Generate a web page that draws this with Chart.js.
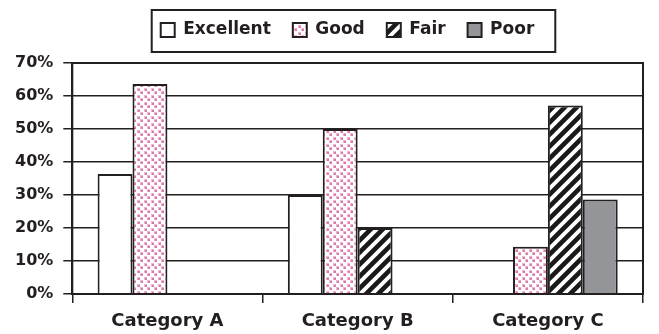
<!DOCTYPE html>
<html>
<head>
<meta charset="utf-8">
<script src="https://cdn.jsdelivr.net/npm/chart.js@4/dist/chart.umd.min.js"></script>
<style>
  html, body { margin: 0; padding: 0; background: #fff; }
  #wrap { width: 659px; height: 334px; }
</style>
</head>
<body>
<div id="wrap"><canvas id="chart" width="659" height="334"></canvas></div>
<script>
// chart data
const categories = ['Category A', 'Category B', 'Category C'];
const seriesNames = ['Excellent', 'Good', 'Fair', 'Poor'];
const excellent = [36.4, 30, 0];
const good = [63.6, 50, 14.3];
const fair = [0, 20, 57.1];
const poor = [0, 0, 28.6];
const yMin = 0;
const yMax = 70;
const yStep = 10;

const ink = '#231f20';
const fontFamily = '"DejaVu Sans", sans-serif';

const canvas = document.getElementById('chart');
const ctx = canvas.getContext('2d');

// pink stipple for "Good"
function dotPattern() {
    const s = 7;
    const c = document.createElement('canvas');
    c.width = s; c.height = s;
    const g = c.getContext('2d');
    g.fillStyle = '#ffffff';
    g.fillRect(0, 0, s, s);
    g.fillStyle = '#eeb3d0';
    g.fillRect(0, 0, 3, 3);
    g.fillRect(4, 4, 3, 3);
    g.fillStyle = '#d97aaa';
    g.fillRect(1, 1, 2, 2);
    g.fillRect(5, 5, 2, 2);
    return ctx.createPattern(c, 'repeat');
}

// black diagonal hatch for "Fair"
function hatchPattern() {
    const s = 12;
    const c = document.createElement('canvas');
    c.width = s; c.height = s;
    const g = c.getContext('2d');
    g.fillStyle = '#ffffff';
    g.fillRect(0, 0, s, s);
    g.strokeStyle = '#1a1a1a';
    g.lineWidth = 4.6;
    g.beginPath();
    g.moveTo(-s, s); g.lineTo(s, -s);
    g.moveTo(0, s); g.lineTo(s, 0);
    g.moveTo(0, 2 * s); g.lineTo(2 * s, 0);
    g.stroke();
    return ctx.createPattern(c, 'repeat');
}

// move the legend to where the reference has it and frame it
const legendFrame = {
    id: 'legendFrame',
    afterLayout(chart) {
        const lg = chart.legend;
        if (!lg || !lg.lineWidths) return;
        const pad = lg.options.labels.padding;
        const start = (lg.left + pad + lg.right - lg.lineWidths[0]) / 2;
        const itemsW = lg.lineWidths[0] - pad;
        const dx = 347.5 - (start + itemsW / 2);
        const itemH = lg.options.labels.font.size;
        const dy = 30 - (lg.top + pad + itemH / 2);
        lg.left += dx; lg.right += dx;
        lg.top += dy; lg.bottom += dy;
        lg._frame = {
            x0: start + dx - 9,
            x1: start + dx + itemsW + 21,
            y0: 10,
            y1: 52
        };
    },
    afterDraw(chart) {
        const c = chart.ctx;
        const a = chart.chartArea;
        c.save();
        c.strokeStyle = ink;
        c.lineWidth = 2;
        // plot box (top and right edges)
        c.strokeRect(a.left, a.top, a.right - a.left, a.bottom - a.top);
        const f = chart.legend && chart.legend._frame;
        if (f) c.strokeRect(f.x0, f.y0, f.x1 - f.x0, f.y1 - f.y0);
        c.restore();
    }
};

const fills = ['#ffffff', dotPattern(), hatchPattern(), '#939598'];
const values = [excellent, good, fair, poor];

new Chart(ctx, {
    type: 'bar',
    data: {
        labels: categories,
        datasets: seriesNames.map((name, i) => ({
            label: name,
            data: values[i],
            backgroundColor: fills[i],
            borderColor: ink,
            borderWidth: 2,
            categoryPercentage: 0.734,
            barPercentage: 1.0
        }))
    },
    options: {
        responsive: false,
        animation: false,
        layout: {
            padding: { left: 5, right: 16, top: 14, bottom: 0 }
        },
        plugins: {
            legend: {
                position: 'top',
                labels: {
                    boxWidth: 14,
                    boxHeight: 14,
                    padding: 22,
                    color: ink,
                    font: { family: fontFamily, size: 17, weight: 'bold' }
                }
            },
            tooltip: { enabled: false }
        },
        scales: {
            x: {
                afterFit: scale => { scale.height = 40; },
                grid: {
                    offset: true,
                    drawOnChartArea: false,
                    drawTicks: true,
                    tickLength: 9,
                    color: ink,
                    lineWidth: 1.5
                },
                border: { color: ink, width: 2 },
                ticks: {
                    color: ink,
                    padding: 8,
                    font: { family: fontFamily, size: 18, weight: 'bold' }
                }
            },
            y: {
                min: yMin,
                max: yMax,
                grid: {
                    color: ink,
                    lineWidth: 1.5,
                    tickLength: 9
                },
                border: { color: ink, width: 2 },
                ticks: {
                    stepSize: yStep,
                    color: ink,
                    padding: 10,
                    font: { family: fontFamily, size: 16, weight: 'bold' },
                    callback: v => v + '%'
                }
            }
        }
    },
    plugins: [legendFrame]
});
</script>
</body>
</html>
